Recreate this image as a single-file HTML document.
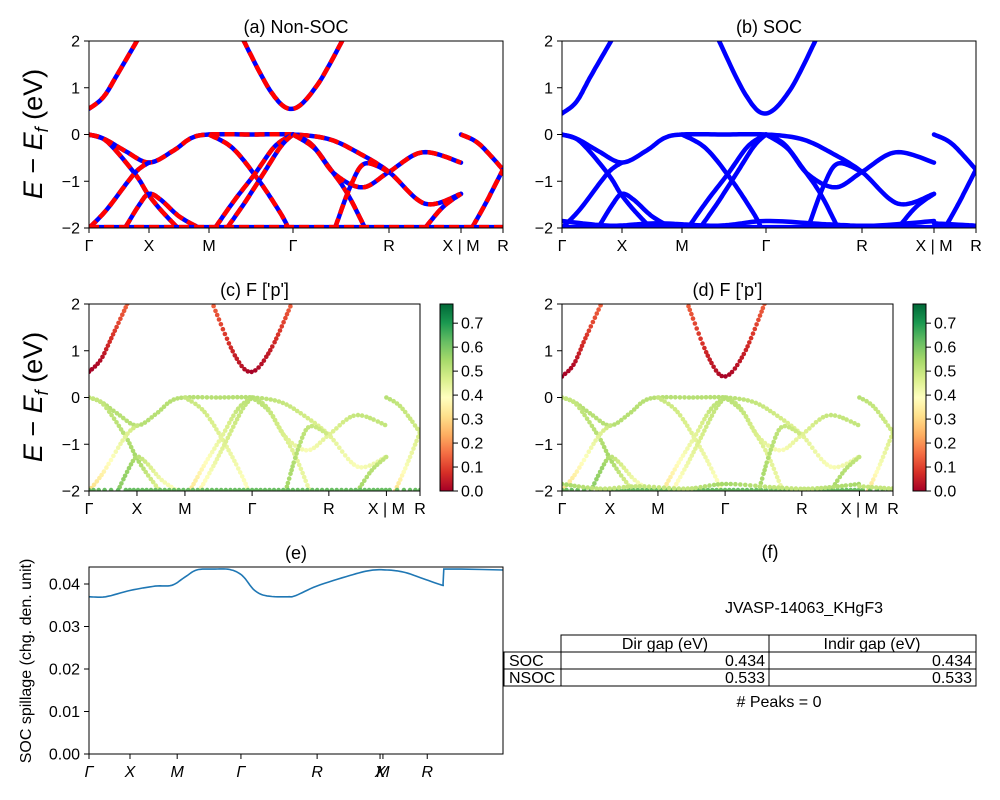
<!DOCTYPE html>
<html><head><meta charset="utf-8"><style>
html,body{margin:0;padding:0;background:#fff}
svg{display:block;font-family:"Liberation Sans","DejaVu Sans",sans-serif}
</style></head><body>
<svg id="fig" width="1000" height="800" viewBox="0 0 1000 800" xmlns="http://www.w3.org/2000/svg"></svg>
<script>
// ---------- data ----------
const kTickPos = [0, 0.5, 1.0, 1.7, 2.5, 3.1, 3.45];
const kTickLabels = ["Γ","X","M","Γ","R","X | M","R"];
const kMax = 3.45;
const eTicks = [2,1,0,-1,-2];
// bands: [k, E, weight]
const condNSOC = [
 [[0,.55,0],[.12,.8,.02],[.24,1.3,.08],[.41,2.05,.15]],
 [[1.28,2.05,.15],[1.52,.9,.05],[1.7,.55,0],[1.9,1.05,.05],[2.12,2.05,.15]]
];
const condSOC = [
 [[0,.45,0],[.12,.7,.02],[.24,1.25,.08],[.42,2.05,.15]],
 [[1.3,2.05,.15],[1.53,.85,.05],[1.7,.45,0],[1.9,.95,.05],[2.12,2.05,.15]]
];
const valence = [
 [[0,0,.52],[.13,-.1,.52],[.3,-.35,.52],[.5,-.6,.52],[.7,-.35,.52],[.85,-.08,.52],[1.0,0,.52],[1.35,0,.52],[1.7,0,.52],[2.0,-.1,.5],[2.25,-.4,.48],[2.5,-.8,.45],[2.8,-1.48,.4],[3.1,-1.27,.45]],
 [[0,0,.5],[.15,-.15,.5],[.38,-.83,.52],[.49,-1.27,.55],[.6,-1.62,.5],[.74,-2,.45]],
 [[.3,-2,.58],[.42,-1.5,.56],[.5,-1.27,.52],[.6,-1.4,.48],[.75,-1.75,.42],[.92,-2,.38]],
 [[0,-2,.3],[.15,-1.6,.36],[.38,-.83,.45],[.5,-.6,.5]],
 [[1.0,0,.5],[1.2,-.3,.48],[1.42,-1,.44],[1.6,-1.7,.4],[1.66,-2,.38]],
 [[1.05,-2,.32],[1.2,-1.45,.38],[1.38,-.85,.44],[1.55,-.25,.5],[1.7,0,.52]],
 [[1.15,-2,.36],[1.3,-1.45,.42],[1.45,-.85,.47],[1.6,-.25,.5],[1.7,0,.52]],
 [[1.7,0,.52],[1.85,-.2,.5],[2.0,-.7,.47],[2.15,-1.25,.45],[2.3,-2,.42]],
 [[1.7,0,.52],[1.88,-.3,.5],[2.05,-.85,.46],[2.28,-1.13,.4],[2.5,-.8,.45],[2.78,-.38,.5],[3.1,-.6,.5]],
 [[2.05,-2,.55],[2.18,-1.1,.52],[2.3,-.62,.5],[2.5,-.8,.48]],
 [[2.8,-2,.55],[2.95,-1.55,.52],[3.1,-1.27,.5]],
 [[3.1,0,.52],[3.25,-.2,.5],[3.45,-.75,.48]],
 [[3.19,-2,.3],[3.3,-1.5,.4],[3.45,-.75,.48]],
 [[0,-1.98,.62],[1.7,-1.98,.62],[3.45,-1.98,.62]]
];
const socExtra = [
 [[0,-1.85,.55],[.4,-1.95,.5],[.8,-1.9,.5],[1.3,-1.95,.5],[1.7,-1.85,.55],[2.2,-1.92,.5],[2.6,-1.95,.5],[3.1,-1.85,.55]],
 [[3.1,-1.9,.5],[3.45,-1.95,.5]]
];
const cbTicks = [0,0.1,0.2,0.3,0.4,0.5,0.6,0.7];
const cbMax = 0.78;
// spillage
const spillX = [0,.04,.1,.16,.2,.23,.26,.3,.34,.37,.4,.43,.48,.5,.55,.63,.68,.72,.76,.8,.85,.855];
const spillY = [.037,.037,.0385,.0395,.0397,.0415,.0433,.0435,.0434,.042,.0385,.0372,.037,.0373,.0395,.042,.0432,.0433,.0428,.0415,.0398,.0397];
const spillX2 = [.857,.9,.95,1.0];
const spillY2 = [.0435,.0435,.0434,.0433];
const spillYTicks = [0,0.01,0.02,0.03,0.04];
const spillXTickFrac = [0,.099,.213,.367,.551,.703,.710,.817];
const spillXTickLabels = ["Γ","X","M","Γ","R","X","M","R"];

// ---------- helpers ----------
const NS="http://www.w3.org/2000/svg";
const svg=document.getElementById('fig');
function mk(tag,attrs,parent){const e=document.createElementNS(NS,tag);for(const k in attrs)e.setAttribute(k,attrs[k]);(parent||svg).appendChild(e);return e;}
function txt(s,x,y,size,anchor,parent,extra){const t=mk('text',Object.assign({x:x,y:y,'font-size':size,'text-anchor':anchor||'middle',fill:'#000'},extra||{}),parent);t.textContent=s;return t;}
function cr(p0,p1,p2,p3,t){const t2=t*t,t3=t2*t;return 0.5*((2*p1)+(-p0+p2)*t+(2*p0-5*p1+4*p2-p3)*t2+(-p0+3*p1-3*p2+p3)*t3);}
function spline(pts,n){const out=[];for(let i=0;i<pts.length-1;i++){const p0=pts[Math.max(0,i-1)],p1=pts[i],p2=pts[i+1],p3=pts[Math.min(pts.length-1,i+2)];for(let j=0;j<n;j++){const t=j/n;out.push([cr(p0[0],p1[0],p2[0],p3[0],t),cr(p0[1],p1[1],p2[1],p3[1],t),p1[2]+(p2[2]-p1[2])*t]);}}const l=pts[pts.length-1];out.push([l[0],l[1],l[2]]);return out;}
const cmapStops=['#a50026','#d73027','#f46d43','#fdae61','#fee08b','#ffffbf','#d9ef8b','#a6d96a','#66bd63','#1a9850','#006837'];
function hx(c){return [parseInt(c.substr(1,2),16),parseInt(c.substr(3,2),16),parseInt(c.substr(5,2),16)];}
function cmap(v){v=Math.max(0,Math.min(1,v));const p=v*10,i=Math.min(9,Math.floor(p)),f=p-i;const a=hx(cmapStops[i]),b=hx(cmapStops[i+1]);return 'rgb('+a.map((x,j)=>Math.round(x+(b[j]-x)*f)).join(',')+')';}

let clipId=0;
function bandAxes(name,x0,y0,w,h,title){
  const g=mk('g',{});
  const sx=k=>x0+k/kMax*w, sy=E=>y0+(2-E)/4*h;
  const cid='clip'+(clipId++);
  const cp=mk('clipPath',{id:cid},g);mk('rect',{x:x0,y:y0,width:w,height:h},cp);
  const plot=mk('g',{'clip-path':'url(#'+cid+')'},g);
  
  txt(title,x0+w/2,y0-8,18,'middle',g);
  eTicks.forEach(v=>{mk('line',{x1:x0-5,x2:x0,y1:sy(v),y2:sy(v),stroke:'#000','stroke-width':1},g);txt(String(v).replace('-','−'),x0-9,sy(v)+5.5,16,'end',g);});
  kTickPos.forEach((k,i)=>{mk('line',{x1:sx(k),x2:sx(k),y1:y0+h,y2:y0+h+5,stroke:'#000','stroke-width':1},g);txt(kTickLabels[i],sx(k),y0+h+23,16,'middle',g);});
  return {g,plot,sx,sy,x0,y0,w,h};
}
function frame(a){mk('rect',{x:a.x0,y:a.y0,width:a.w,height:a.h,fill:'none',stroke:'#000','stroke-width':1},a.g);}
function drawLines(a,bands,dashed){
  bands.forEach((b,i)=>{const s=spline(b,14);const d=s.map((p,j)=>(j?'L':'M')+a.sx(p[0]).toFixed(1)+','+a.sy(p[1]).toFixed(1)).join('');
    const p=mk('path',{d:d,fill:'none',stroke:'#0000ff','stroke-width':4.5,'stroke-linecap':'round'},a.plot);
    
    if(dashed){const q=mk('path',{d:d,fill:'none',stroke:'#ff0000','stroke-width':4.5,'stroke-dasharray':'10,5'},a.plot);
      }
  });
}
function drawDots(a,bands){
  bands.forEach(b=>{const s=spline(b,40);let lx=-99,ly=-99;
    s.forEach(p=>{const x=a.sx(p[0]),y=a.sy(p[1]);if(Math.hypot(x-lx,y-ly)<3.8)return;lx=x;ly=y;
      const c=mk('circle',{cx:x.toFixed(1),cy:y.toFixed(1),r:2.3,fill:cmap(p[2]/cbMax)},a.plot);
      });});
}
function colorbar(name,x,y,w,h){
  const g=mk('g',{});
  const gid=name+'-grad';const lg=mk('linearGradient',{id:gid,x1:0,y1:1,x2:0,y2:0},g);
  for(let i=0;i<=20;i++)mk('stop',{offset:i/20,'stop-color':cmap(i/20)},lg);
  mk('rect',{x:x,y:y,width:w,height:h,fill:'url(#'+gid+')',stroke:'#000','stroke-width':1},g);
  cbTicks.forEach(v=>{const ty=y+h-v/cbMax*h;mk('line',{x1:x+w,x2:x+w+5,y1:ty,y2:ty,stroke:'#000'},g);txt(v.toFixed(1),x+w+8,ty+5.5,16,'start',g);});
}
function ylabel(cx,cy){const t=mk('text',{x:0,y:0,'font-size':27,'text-anchor':'middle',transform:'translate('+cx+','+cy+') rotate(-90)'});
  
  t.innerHTML='<tspan font-style="italic">E</tspan> − <tspan font-style="italic">E</tspan><tspan font-style="italic" font-size="18" dy="6">f</tspan><tspan dy="-6"> (eV)</tspan>';}

// ---------- panels ----------
const A=bandAxes('panel-a-non-soc',89,41,414,187,'(a) Non-SOC');
drawLines(A,condNSOC.concat(valence),true);frame(A);
const B=bandAxes('panel-b-soc',562,41,414,187,'(b) SOC');
drawLines(B,condSOC.concat(valence,socExtra),false);frame(B);
const C=bandAxes('panel-c-f-p-nsoc',89,304,331,187,"(c)  F ['p']");
drawDots(C,condNSOC.concat(valence));frame(C);
const D=bandAxes('panel-d-f-p-soc',562,304,331,187,"(d) F ['p']");
drawDots(D,condSOC.concat(valence,socExtra));frame(D);
colorbar('colorbar-c',440,304,13,187);
colorbar('colorbar-d',913,304,13,187);
ylabel(42,134);ylabel(42,397);

// panel e
(function(){
  const x0=89,y0=567,w=414,h=187,ymax=0.044;
  const g=mk('g',{});
  const sx=f=>x0+f*w, sy=v=>y0+h-v/ymax*h;
  txt('(e)',x0+w/2,y0-8,18,'middle',g);
  spillYTicks.forEach(v=>{mk('line',{x1:x0-5,x2:x0,y1:sy(v),y2:sy(v),stroke:'#000'},g);txt(v.toFixed(2),x0-9,sy(v)+5.5,16,'end',g);});
  spillXTickFrac.forEach((f,i)=>{mk('line',{x1:sx(f),x2:sx(f),y1:y0+h,y2:y0+h+5,stroke:'#000'},g);txt(spillXTickLabels[i],sx(f),y0+h+23,16,'middle',g,{'font-style':'italic'});});
  const d1=spline(spillX.map((x,i)=>[x,spillY[i],0]),8).map((p,j)=>(j?'L':'M')+sx(p[0]).toFixed(1)+','+sy(p[1]).toFixed(1)).join('');
  const d2=spillX2.map((x,i)=>(i?'L':'M')+sx(x).toFixed(1)+','+sy(spillY2[i]).toFixed(1)).join('');
  const l=mk('path',{d:d1+' L'+sx(spillX2[0]).toFixed(1)+','+sy(spillY2[0]).toFixed(1)+d2.replace(/^M/,' L'),fill:'none',stroke:'#1f77b4','stroke-width':1.6},g);
  
  mk('rect',{x:x0,y:y0,width:w,height:h,fill:'none',stroke:'#000'},g);
  const t=mk('text',{x:0,y:0,'font-size':16,'text-anchor':'middle',transform:'translate(31,661) rotate(-90)'});
  t.textContent='SOC spillage (chg. den. unit)';
})();

// panel f table
(function(){
  const g=mk('g',{});
  txt('(f)',770,558,18,'middle',g);
  txt('JVASP-14063_KHgF3',804,613,16,'middle',g);
  const st={fill:'none',stroke:'#000','stroke-width':1};
  mk('rect',Object.assign({x:561,y:635,width:415,height:17},st),g);
  mk('line',{x1:769,x2:769,y1:635,y2:686,stroke:'#000'},g);
  mk('rect',Object.assign({x:504,y:652,width:472,height:17},st),g);
  mk('rect',Object.assign({x:504,y:669,width:472,height:17},st),g);
  mk('line',{x1:561,x2:561,y1:652,y2:686,stroke:'#000'},g);
  txt('Dir gap (eV)',665,649,16,'middle',g);txt('Indir gap (eV)',872,649,16,'middle',g);
  txt('SOC',509,666,16,'start',g);txt('0.434',765,666,16,'end',g);txt('0.434',972,666,16,'end',g);
  txt('NSOC',509,683,16,'start',g);txt('0.533',765,683,16,'end',g);txt('0.533',972,683,16,'end',g);
  txt('# Peaks = 0',779,707,16,'middle',g);
})();
</script>
</body></html>
